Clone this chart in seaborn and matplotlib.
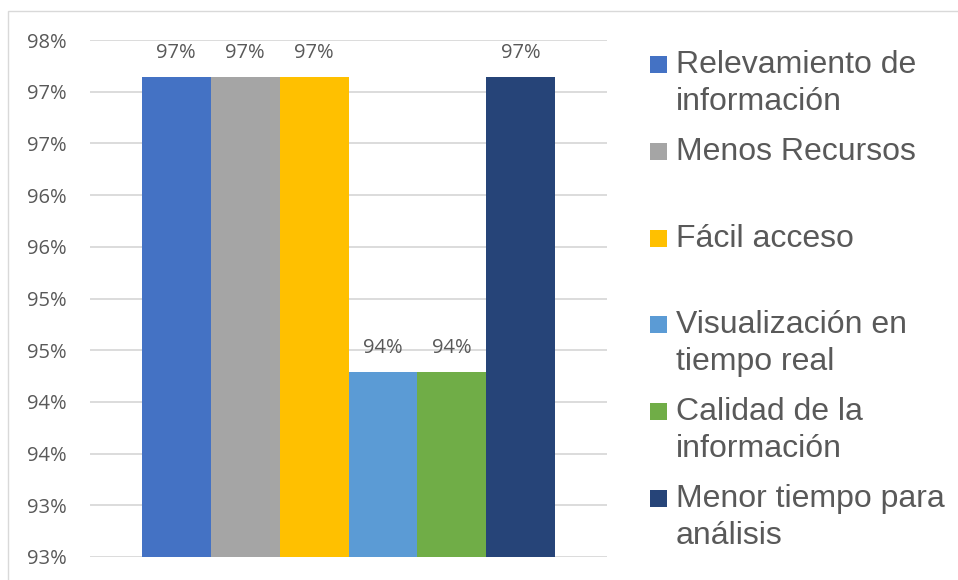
import math
import textwrap
import matplotlib
matplotlib.use("Agg")
import matplotlib.pyplot as plt
from matplotlib.patches import Rectangle
from matplotlib.ticker import FuncFormatter, MultipleLocator
import pandas as pd
import seaborn as sns

# ---- data ----
series = ["Relevamiento de información", "Menos Recursos", "Fácil acceso",
          "Visualización en tiempo real", "Calidad de la información",
          "Menor tiempo para análisis"]
values = [97.142857, 97.142857, 97.142857, 94.285714, 94.285714, 97.142857]
colors = ["#4472C4", "#A5A5A5", "#FFC000", "#5B9BD5", "#70AD47", "#264478"]
y_min, y_max, y_step = 92.5, 97.5, 0.5

df = pd.DataFrame({"cat": [""] * len(series), "serie": series, "valor": values})

sns.set_theme(style="white")
W, H = 958, 580
fig = plt.figure(figsize=(W / 100, H / 100), dpi=100)
ax = fig.add_axes([90 / W, 1 - 557 / H, (607 - 90) / W, (557 - 40) / H])

sns.barplot(data=df, x="cat", y="valor", hue="serie", hue_order=series,
            palette=colors, saturation=1, legend=False, ax=ax, width=0.8,
            linewidth=0, errorbar=None)

ax.set_ylim(y_min, y_max)
ax.yaxis.set_major_locator(MultipleLocator(y_step))
ax.yaxis.set_major_formatter(FuncFormatter(lambda v, p: f"{math.floor(v + 0.5 + 1e-9):d}%"))
ax.set_xticks([])
ax.set_xlabel("")
ax.set_ylabel("")
for s in ax.spines.values():
    s.set_visible(False)
ax.grid(axis="y", color="#D9D9D9", linewidth=1.3)
ax.set_axisbelow(True)
ax.tick_params(axis="y", length=0, pad=16.5, labelsize=14.5, labelcolor="#595959")
for t in ax.get_yticklabels():
    t.set_fontfamily("Open Sans")

for cont in ax.containers:
    ax.bar_label(cont, labels=[f"{math.floor(v + 0.5):d}%" for v in cont.datavalues],
                 padding=10, fontsize=14.5, color="#595959", fontfamily="Open Sans")

# legend (manual, evenly spaced like the original)
for i, (name, col) in enumerate(zip(series, colors)):
    base = 73 + 86.8 * i
    fig.patches.append(Rectangle((650 / W, 1 - base / H), 17 / W, 17 / H,
                                 transform=fig.transFigure, facecolor=col,
                                 edgecolor="none"))
    for k, line in enumerate(textwrap.wrap(name, 17)):
        fig.text(676 / W, 1 - (base + 37 * k) / H, line, fontsize=23,
                 fontfamily="Liberation Sans", color="#595959", va="baseline",
                 ha="left")

# chart border
fig.patches.append(Rectangle((8 / W, -0.1), 1.2, 1.1 - 11 / H,
                             transform=fig.transFigure, fill=False,
                             edgecolor="#D9D9D9", linewidth=1.0))

fig.savefig("out.png", dpi=100)
